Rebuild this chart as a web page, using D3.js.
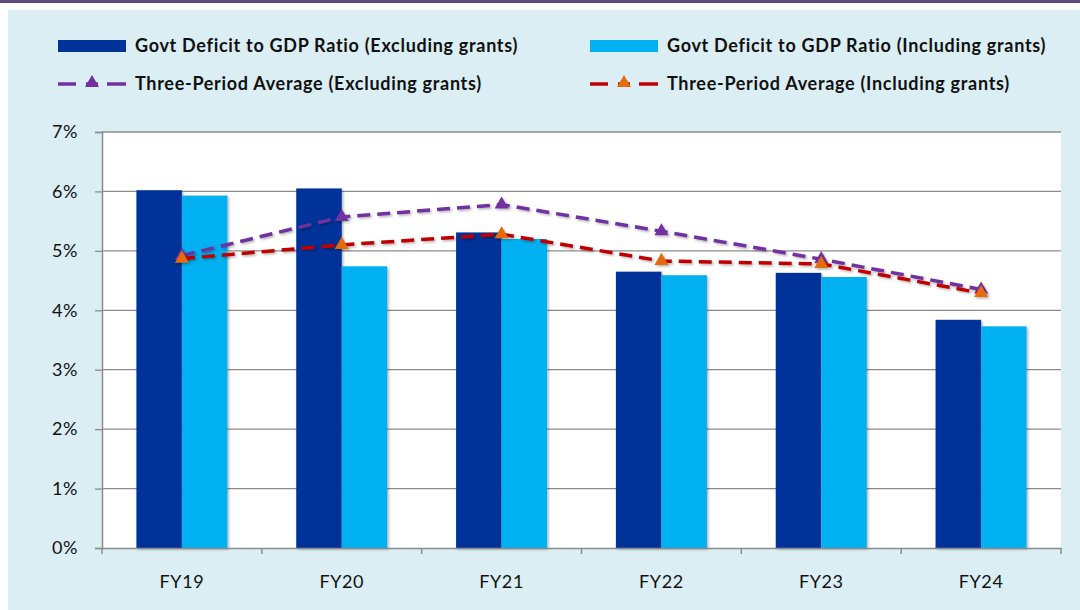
<!DOCTYPE html>
<html lang="en">
<head>
<meta charset="utf-8">
<title>Govt Deficit to GDP</title>
<script src="https://d3js.org/d3.v7.min.js"></script>
<style>
  html, body { margin: 0; padding: 0; background: #fff; }
  svg { display: block; }
</style>
</head>
<body>
<div id="chart"></div>
<script>
// Data
const years = ["FY19", "FY20", "FY21", "FY22", "FY23", "FY24"];
const deficitExcl = [6.02, 6.05, 5.31, 4.65, 4.63, 3.84];
const deficitIncl = [5.93, 4.74, 5.20, 4.59, 4.56, 3.73];
const avgExcl = [4.92, 5.57, 5.78, 5.33, 4.86, 4.35];
const avgIncl = [4.87, 5.10, 5.28, 4.83, 4.78, 4.29];
const yTicks = [0, 1, 2, 3, 4, 5, 6, 7];

const W = 1080, H = 610;
const plot = { left: 102, right: 1061, top: 132, bottom: 548 };
const font = "Lato, 'Open Sans', sans-serif";

const svg = d3.select("#chart").append("svg")
  .attr("width", W).attr("height", H);

const defs = svg.append("defs");
const shadow = defs.append("filter").attr("id", "shadow")
  .attr("x", "-30%").attr("y", "-30%").attr("width", "160%").attr("height", "160%");
shadow.append("feDropShadow")
  .attr("dx", 1.5).attr("dy", 1.5).attr("stdDeviation", 1.2)
  .attr("flood-color", "#000").attr("flood-opacity", 0.3);

// Frame
svg.append("rect").attr("x", 0).attr("y", 0).attr("width", W).attr("height", 3).attr("fill", "#604a7b");
svg.append("rect").attr("x", 8).attr("y", 10).attr("width", W - 8).attr("height", H - 10).attr("fill", "#daeef3");
svg.append("rect")
  .attr("x", plot.left).attr("y", plot.top)
  .attr("width", plot.right - plot.left).attr("height", plot.bottom - plot.top)
  .attr("fill", "#fff");

// Scales
const x = d3.scaleBand().domain(years).range([plot.left, plot.right]).paddingInner(0).paddingOuter(0);
const sub = d3.scaleBand().domain(["excl", "incl"]).range([0, x.bandwidth()]).paddingInner(0).paddingOuter(0.756);
const y = d3.scaleLinear().domain([0, 7]).range([plot.bottom, plot.top]);

// Gridlines
svg.append("g")
  .selectAll("line").data(yTicks.slice(1)).join("line")
  .attr("x1", plot.left).attr("x2", plot.right)
  .attr("y1", d => y(d)).attr("y2", d => y(d))
  .attr("stroke", "#8c8c8c").attr("stroke-width", 1.3);

// Y axis
const yAxis = svg.append("g")
  .attr("transform", `translate(${plot.left},0)`)
  .call(d3.axisLeft(y).tickValues(yTicks).tickFormat(d => d + "%").tickSize(7).tickPadding(17));
yAxis.select(".domain").attr("stroke", "#8c8c8c").attr("stroke-width", 1.5);
yAxis.selectAll(".tick line").attr("stroke", "#8c8c8c").attr("stroke-width", 1.3);
yAxis.selectAll("text").attr("font-family", font).attr("font-size", 18)
  .attr("letter-spacing", "0.6px").attr("fill", "#111");

// Bars
const bars = svg.append("g").attr("filter", "url(#shadow)");
bars.selectAll(".excl").data(years).join("rect")
  .attr("x", d => x(d) + sub("excl"))
  .attr("width", sub.bandwidth())
  .attr("y", (d, i) => y(deficitExcl[i]))
  .attr("height", (d, i) => y(0) - y(deficitExcl[i]))
  .attr("fill", "#003399");
bars.selectAll(".incl").data(years).join("rect")
  .attr("x", d => x(d) + sub("incl"))
  .attr("width", sub.bandwidth())
  .attr("y", (d, i) => y(deficitIncl[i]))
  .attr("height", (d, i) => y(0) - y(deficitIncl[i]))
  .attr("fill", "#00b0f0");

// X axis
const xAxis = svg.append("g")
  .attr("transform", `translate(0,${plot.bottom})`)
  .call(d3.axisBottom(x).tickSize(0).tickPadding(27));
xAxis.select(".domain").attr("stroke", "#8c8c8c").attr("stroke-width", 1.5);
xAxis.selectAll("text").attr("font-family", font).attr("font-size", 18)
  .attr("letter-spacing", "0.6px").attr("fill", "#111");
svg.append("g").selectAll("line")
  .data(years.concat(["end"])).join("line")
  .attr("x1", (d, i) => plot.left + i * x.step()).attr("x2", (d, i) => plot.left + i * x.step())
  .attr("y1", plot.bottom).attr("y2", plot.bottom + 6)
  .attr("stroke", "#8c8c8c").attr("stroke-width", 1.5);

// Lines
const tri = d3.symbol().type(d3.symbolTriangle).size(85);
function drawLine(vals, lineColor, markerColor) {
  const line = d3.line().x((d, i) => x(years[i]) + x.bandwidth() / 2).y(d => y(d));
  const g = svg.append("g").attr("filter", "url(#shadow)");
  g.append("path").datum(vals)
    .attr("d", line).attr("fill", "none")
    .attr("stroke", lineColor).attr("stroke-width", 3.5)
    .attr("stroke-dasharray", "13,7");
  g.selectAll("path.m").data(vals).join("path").attr("class", "m")
    .attr("d", tri)
    .attr("transform", (d, i) => `translate(${x(years[i]) + x.bandwidth() / 2},${y(d)})`)
    .attr("fill", markerColor);
}
drawLine(avgExcl, "#7030a0", "#7030a0");
drawLine(avgIncl, "#c00000", "#e46c0a");

// Legend
const legendItems = [
  { label: "Govt Deficit to GDP Ratio (Excluding grants)", type: "bar", color: "#003399", x: 58, y: 46 },
  { label: "Govt Deficit to GDP Ratio (Including grants)", type: "bar", color: "#00b0f0", x: 590, y: 46 },
  { label: "Three-Period Average (Excluding grants)", type: "line", color: "#7030a0", marker: "#7030a0", x: 58, y: 84 },
  { label: "Three-Period Average (Including grants)", type: "line", color: "#c00000", marker: "#e46c0a", x: 590, y: 84 }
];
legendItems.forEach(it => {
  const g = svg.append("g").attr("transform", `translate(${it.x},${it.y})`);
  if (it.type === "bar") {
    g.append("rect").attr("x", 0).attr("y", -6).attr("width", 68).attr("height", 12).attr("fill", it.color);
  } else {
    [[0, 18], [49, 68], [28, 40]].forEach(([a, b]) => {
      g.append("line").attr("x1", a).attr("x2", b).attr("y1", 0).attr("y2", 0)
        .attr("stroke", it.color).attr("stroke-width", 3.5);
    });
    g.append("path").attr("d", tri).attr("transform", "translate(34,-1)").attr("fill", it.marker);
  }
  g.append("text").attr("x", 77).attr("y", 0).attr("dy", "0.35em")
    .attr("font-family", font).attr("font-size", 18).attr("font-weight", "bold")
    .attr("letter-spacing", "0.7px").attr("fill", "#111").text(it.label);
});
</script>
</body>
</html>
